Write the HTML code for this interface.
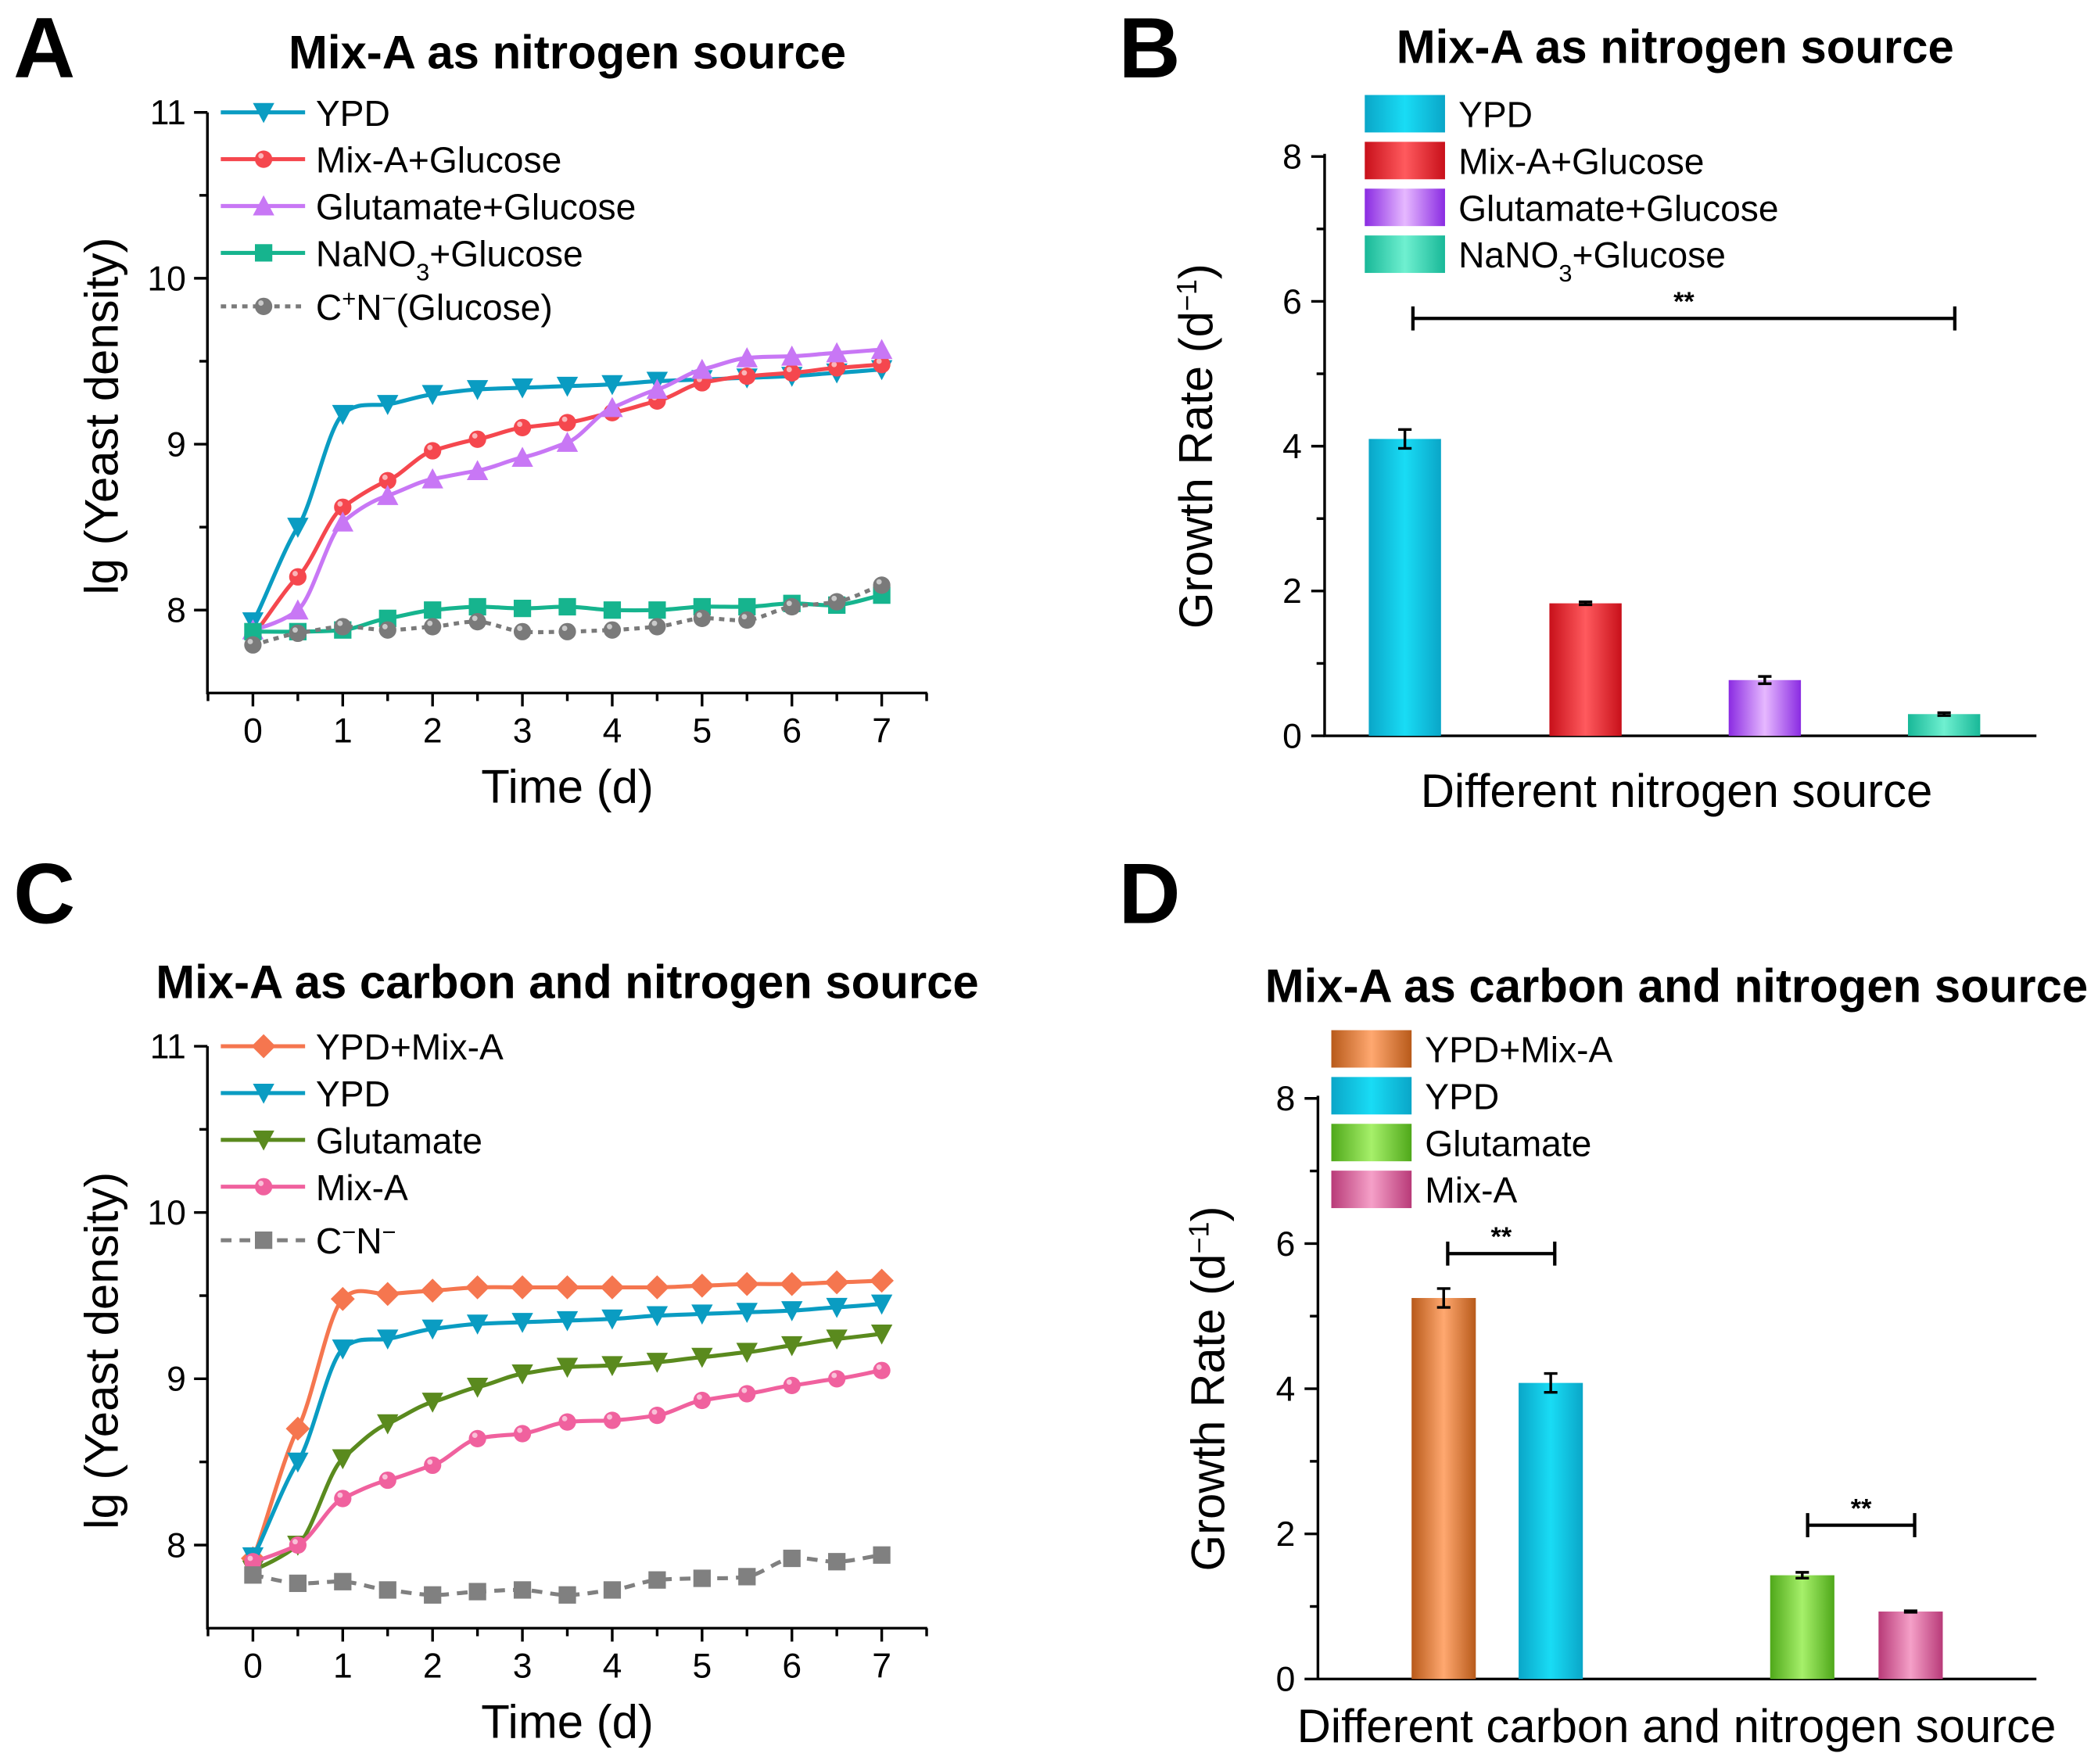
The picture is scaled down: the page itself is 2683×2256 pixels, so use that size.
<!DOCTYPE html>
<html><head><meta charset="utf-8"><style>
html,body{margin:0;padding:0;background:#fff}
svg{display:block;font-family:"Liberation Sans",Arial,sans-serif}
</style></head><body>
<svg id="fig" width="2683" height="2256" viewBox="0 0 1568 1318.5" xmlns="http://www.w3.org/2000/svg">
<defs></defs>
</svg>
<script>
// ---------- data ----------
const timeDays=[0,0.5,1,1.5,2,2.5,3,3.5,4,4.5,5,5.5,6,6.5,7];
const aYPD=[7.93,8.5,9.18,9.24,9.3,9.33,9.34,9.35,9.36,9.38,9.39,9.4,9.41,9.43,9.45];
const aMixGlu=[7.85,8.2,8.62,8.78,8.96,9.03,9.1,9.13,9.19,9.26,9.37,9.41,9.43,9.46,9.48];
const aGlutGlu=[7.88,8.0,8.53,8.69,8.79,8.84,8.92,9.01,9.22,9.33,9.45,9.52,9.53,9.55,9.57];
const aNaNO3=[7.87,7.87,7.88,7.95,8.0,8.02,8.01,8.02,8.0,8.0,8.02,8.02,8.04,8.03,8.09];
const aCN=[7.79,7.86,7.9,7.88,7.9,7.93,7.87,7.87,7.88,7.9,7.95,7.94,8.02,8.05,8.15];
const cYPDMix=[7.92,8.7,9.48,9.51,9.53,9.55,9.55,9.55,9.55,9.55,9.56,9.57,9.57,9.58,9.59];
const cYPD=[7.93,8.5,9.18,9.24,9.3,9.33,9.34,9.35,9.36,9.38,9.39,9.4,9.41,9.43,9.45];
const cGlut=[7.85,8.0,8.52,8.73,8.86,8.95,9.03,9.07,9.08,9.1,9.13,9.16,9.2,9.24,9.27];
const cMix=[7.9,8.0,8.28,8.39,8.48,8.64,8.67,8.74,8.75,8.78,8.87,8.91,8.96,9.0,9.05];
const cCN=[7.82,7.77,7.78,7.73,7.7,7.72,7.73,7.7,7.73,7.79,7.8,7.81,7.92,7.9,7.94];
const bCats=["YPD","Mix-A+Glucose","Glutamate+Glucose","NaNO3+Glucose"];
const bVals=[4.1,1.83,0.77,0.3];
const bErr=[0.13,0.02,0.05,0.02];
const dCats=["YPD+Mix-A","YPD","Glutamate","Mix-A"];
const dVals=[5.25,4.08,1.43,0.93];
const dErr=[0.13,0.13,0.04,0.01];
const lineTicksX=[0,1,2,3,4,5,6,7];
const lineTicksY=[8,9,10,11];
const barTicksY=[0,2,4,6,8];

const NS="http://www.w3.org/2000/svg";
const svg=document.getElementById('fig');
const defs=svg.querySelector('defs');
function el(tag,attrs,parent){const e=document.createElementNS(NS,tag);for(const k in attrs)e.setAttribute(k,attrs[k]);(parent||svg).appendChild(e);return e;}
function txt(x,y,s,size,attrs,parent){const t=el('text',Object.assign({x:x,y:y,'font-size':size},attrs||{}),parent);t.innerHTML=s;return t;}
function grad(id,c1,c2){const g=el('linearGradient',{id:id,x1:0,x2:1,y1:0,y2:0},defs);
 el('stop',{offset:'0','stop-color':c1},g);el('stop',{offset:'0.5','stop-color':c2},g);el('stop',{offset:'1','stop-color':c1},g);}
grad('gYPD','#0aa6c8','#19dcf5');grad('gMix','#c8101a','#ff5a5e');grad('gGlu','#8a2be2','#e6b8ff');grad('gNa','#18b898','#6ff0d0');
grad('gYM','#b85a1a','#ffa870');grad('gGl','#4fa81a','#a6f06a');grad('gMA','#b83a78','#f5a0c8');

function smooth(pts){let d='M'+pts[0][0]+','+pts[0][1];
 for(let i=0;i<pts.length-1;i++){const p0=pts[i-1]||pts[i],p1=pts[i],p2=pts[i+1],p3=pts[i+2]||p2;
  const c1=[p1[0]+(p2[0]-p0[0])/6,p1[1]+(p2[1]-p0[1])/9],c2=[p2[0]-(p3[0]-p1[0])/6,p2[1]-(p3[1]-p1[1])/9];
  d+=' C'+c1+' '+c2+' '+p2;}return d;}

function marker(g,type,x,y,color){
 if(type==='down')el('path',{d:`M${x-8},${y-7}L${x+8},${y-7}L${x},${y+8}Z`,fill:color},g);
 else if(type==='up')el('path',{d:`M${x-8},${y+7}L${x+8},${y+7}L${x},${y-8}Z`,fill:color},g);
 else if(type==='circle'){el('circle',{cx:x,cy:y,r:6.5,fill:color},g);el('circle',{cx:x-2,cy:y-2.5,r:2,fill:'#fff','fill-opacity':0.6},g);}
 else if(type==='square')el('rect',{x:x-6.5,y:y-6.5,width:13,height:13,fill:color},g);
 else if(type==='diamond')el('path',{d:`M${x},${y-9}L${x+9},${y}L${x},${y+9}L${x-9},${y}Z`,fill:color},g);
}

function linePanel(o){
 const X0=155,X1=693,Yb=o.yb,Yt=o.yt;
 const sx=v=>189+(v)*67.14, sy=v=>Yb-(v-7.5)*(Yb-Yt)/3.5;
 const g=el('g',{});
 el('path',{d:`M${X0},${Yt}V${Yb}H${X1}`,stroke:'#000','stroke-width':2,fill:'none'},g);
 lineTicksY.forEach(v=>{el('line',{x1:X0-10,x2:X0,y1:sy(v),y2:sy(v),stroke:'#000','stroke-width':2},g);
  txt(X0-16,sy(v)+9,v,26,{'text-anchor':'end'},g);
  if(v<11){el('line',{x1:X0-6,x2:X0,y1:sy(v+0.5),y2:sy(v+0.5),stroke:'#000','stroke-width':2},g);}});
 lineTicksX.forEach(v=>{el('line',{x1:sx(v),x2:sx(v),y1:Yb,y2:Yb+10,stroke:'#000','stroke-width':2},g);
  txt(sx(v),Yb+37,v,26,{'text-anchor':'middle'},g);
  el('line',{x1:sx(v+0.5),x2:sx(v+0.5),y1:Yb,y2:Yb+6,stroke:'#000','stroke-width':2},g);});
 el('line',{x1:sx(-0.5),x2:sx(-0.5),y1:Yb,y2:Yb+6,stroke:'#000','stroke-width':2},g);
 txt(424,Yb+82,'Time (d)',35,{'text-anchor':'middle',},g);
 txt(0,0,'lg (Yeast density)',35,{'text-anchor':'middle',transform:`translate(88,${(Yt+Yb)/2+10}) rotate(-90)`,},g);
 txt(o.titleX,o.titleY,o.title,35,{'text-anchor':'middle','font-weight':'bold',},g);
 o.series.forEach((s,i)=>{
  const sg=el('g',{});
  
  
  g.appendChild(sg);
  const pts=timeDays.map((t,j)=>[sx(t),sy(s.data[j])]);
  el('path',{d:smooth(pts),stroke:s.color,'stroke-width':3,fill:'none','stroke-dasharray':s.dash||''},sg);
  pts.forEach(p=>marker(sg,s.m,p[0],p[1],s.color));
  const ly=o.legY+i*35+(s.ly||0);
  const lg=el('g',{});
  
  
  g.appendChild(lg);
  el('line',{x1:165,x2:228,y1:ly,y2:ly,stroke:s.color,'stroke-width':3,'stroke-dasharray':s.dash||''},lg);
  marker(lg,s.m,197,ly,s.color);
  txt(236,ly+10,s.label,27,{},lg);
 });
}

linePanel({name:'panel-a-line-chart',yb:518,yt:84,title:'Mix-A as nitrogen source',titleX:424,titleY:51,legY:84,series:[
 {key:'ypd',data:aYPD,color:'#0a9cc2',m:'down',label:'YPD'},
 {key:'mixa-glucose',data:aMixGlu,color:'#f5474e',m:'circle',label:'Mix-A+Glucose'},
 {key:'glutamate-glucose',data:aGlutGlu,color:'#c877f5',m:'up',label:'Glutamate+Glucose'},
 {key:'nano3-glucose',data:aNaNO3,color:'#16b48e',m:'square',label:'NaNO<tspan baseline-shift="sub" font-size="18">3</tspan>+Glucose'},
 {key:'cn-glucose',data:aCN,color:'#7a7a7a',m:'circle',dash:'4,4',label:'C<tspan baseline-shift="super" font-size="18">+</tspan>N<tspan baseline-shift="super" font-size="18">−</tspan>(Glucose)',ly:5}
]});
linePanel({name:'panel-c-line-chart',yb:1217,yt:782,title:'Mix-A as carbon and nitrogen source',titleX:424,titleY:746,legY:782,series:[
 {key:'ypd-mixa',data:cYPDMix,color:'#f5764f',m:'diamond',label:'YPD+Mix-A'},
 {key:'ypd',data:cYPD,color:'#0a9cc2',m:'down',label:'YPD'},
 {key:'glutamate',data:cGlut,color:'#5a8a1e',m:'down',label:'Glutamate'},
 {key:'mixa',data:cMix,color:'#f0619e',m:'circle',label:'Mix-A'},
 {key:'cn',data:cCN,color:'#808080',m:'square',dash:'8,6',label:'C<tspan baseline-shift="super" font-size="18">−</tspan>N<tspan baseline-shift="super" font-size="18">−</tspan>',ly:5}
]});

function barPanel(o){
 const X0=o.x0,X1=1522,Y0=o.y0,Y8=o.y8;
 const sy=v=>Y0-v*(Y0-Y8)/8;
 const g=el('g',{});
 el('path',{d:`M${X0},${Y8-2}V${Y0}H${X1}`,stroke:'#000','stroke-width':2,fill:'none'},g);
 barTicksY.forEach(v=>{el('line',{x1:X0-10,x2:X0,y1:sy(v),y2:sy(v),stroke:'#000','stroke-width':2},g);
  txt(X0-17,sy(v)+9,v,26,{'text-anchor':'end'},g);
  if(v<8)el('line',{x1:X0-6,x2:X0,y1:sy(v+1),y2:sy(v+1),stroke:'#000','stroke-width':2},g);});
 txt(o.titleX,o.titleY,o.title,35,{'text-anchor':'middle','font-weight':'bold',},g);
 txt(1253,Y0+o.xty,o.xTitle,35,{'text-anchor':'middle',},g);
 txt(0,0,'Growth Rate (d<tspan baseline-shift="super" font-size="21">−1</tspan>)',35,{'text-anchor':'middle',transform:`translate(${o.ytx},${(Y0+Y8)/2}) rotate(-90)`,},g);
 o.vals.forEach((v,i)=>{
  const cx=o.cx[i];
  const r=el('rect',{x:cx-o.w/2,y:sy(v),width:o.w,height:Y0-sy(v),fill:'url(#'+o.fills[i]+')'},g);
  
  
  const e=o.err[i];
  el('path',{d:`M${cx},${sy(v+e)}V${sy(v-e)}M${cx-5},${sy(v+e)}H${cx+5}M${cx-5},${sy(v-e)}H${cx+5}`,stroke:'#000','stroke-width':2,fill:'none'},g);
  const ly=o.legY+i*35;
  const lg=el('g',{});
  
  
  g.appendChild(lg);
  el('rect',{x:o.legX,y:ly-14,width:60,height:28,fill:'url(#'+o.fills[i]+')'},lg);
  txt(o.legX+70,ly+10,o.labels[i],27,{},lg);
 });
 o.sig.forEach(s=>{
  el('path',{d:`M${s[0]},${s[2]}H${s[1]}M${s[0]},${s[2]-9}V${s[2]+9}M${s[1]},${s[2]-9}V${s[2]+9}`,stroke:'#000','stroke-width':2.5,fill:'none',},g);
  txt((s[0]+s[1])/2,s[2]-6,'**',20,{'text-anchor':'middle','font-weight':'bold'},g);
 });
}
barPanel({name:'panel-b-bar-chart',x0:990,y0:550,y8:117,ytx:906,xty:53,title:'Mix-A as nitrogen source',titleX:1252,titleY:47,
 xTitle:'Different nitrogen source',vals:bVals,err:bErr,cx:[1050,1185,1319,1453],w:54,
 fills:['gYPD','gMix','gGlu','gNa'],keys:['ypd','mixa-glucose','glutamate-glucose','nano3-glucose'],
 labels:['YPD','Mix-A+Glucose','Glutamate+Glucose','NaNO<tspan baseline-shift="sub" font-size="18">3</tspan>+Glucose'],
 legX:1020,legY:85,sig:[[1056,1461,238]]});
barPanel({name:'panel-d-bar-chart',x0:985,y0:1255,y8:821,ytx:915,xty:47,title:'Mix-A as carbon and nitrogen source',titleX:1253,titleY:749,
 xTitle:'Different carbon and nitrogen source',vals:dVals,err:dErr,cx:[1079,1159,1347,1428],w:48,
 fills:['gYM','gYPD','gGl','gMA'],keys:['ypd-mixa','ypd','glutamate','mixa'],
 labels:['YPD+Mix-A','YPD','Glutamate','Mix-A'],
 legX:995,legY:784,sig:[[1082,1162,937],[1351,1431,1140]]});

[['A',10,58],['B',836,58],['C',10,690],['D',836,690]].forEach(p=>{
 const t=txt(p[1],p[2],p[0],64,{'font-weight':'bold'});
 
 
});
</script>
</body></html>
